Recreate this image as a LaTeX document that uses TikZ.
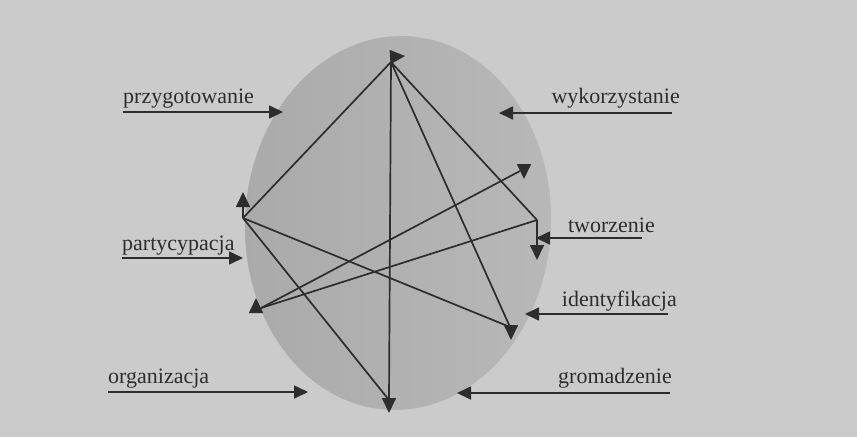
\documentclass[tikz,border=0pt]{standalone}
\usepackage{fontspec}
\setmainfont{Liberation Serif}
\usetikzlibrary{arrows.meta}
\definecolor{paper}{RGB}{203,203,203}
\definecolor{disc}{RGB}{170,170,170}
\definecolor{discrim}{RGB}{184,184,184}
\definecolor{ink}{RGB}{45,45,45}
\begin{document}
\begin{tikzpicture}[x=1pt,y=-1pt,
  link/.style={draw=ink, line width=1.7pt},
  head/.style={draw=ink, line width=1.7pt, -{Triangle[length=15pt,width=14pt]}},
  pointer/.style={draw=ink, line width=1.7pt, -{Triangle[length=14pt,width=13pt]}},
  lab/.style={font=\fontsize{22}{26}\selectfont, text=ink, inner sep=0pt}]
\useasboundingbox (0,0) rectangle (857,437);
\fill[paper] (0,0) rectangle (857,437);

% grey disc, slightly paler towards its right rim
\shade[left color=disc, middle color=disc, right color=discrim,
       rotate around={-3:(398,223)}] (398,223) ellipse (153 and 187);

% vertices of the network
\coordinate (A) at (391,62);
\coordinate (B) at (243,218);
\coordinate (C) at (537,220);
\coordinate (D) at (261,308);
\coordinate (E) at (510,327);
\coordinate (F) at (389,400);
\coordinate (G) at (520,171);

% connections
\draw[link] (A) -- (B);
\draw[link] (A) -- (F);
\draw[link] (A) -- (E);
\draw[link] (A) -- (C);
\draw[link] (B) -- (F);
\draw[link] (B) -- (E);
\draw[link] (D) -- (G);
\draw[link] (D) -- (C);

% arrowheads at the vertices
\draw[head] ([shift={(-1,-5)}]A) -- ++(15,-1);
\draw[head] (B) -- ++(0,-26);
\draw[head] (C) -- ++(0,40);
\draw[head] ([shift={(-5,4)}]D) -- ++(0,-14);
\draw[head] ([shift={(1,-1)}]E) -- ++(0,14);
\draw[head] (F) -- ++(0,13);
\draw[head] ([shift={(4,-6)}]G) -- ++(0,14);

% labels with pointers
\node[lab, anchor=base west] (tP) at (123,103) {przygotowanie};
\coordinate (pP1) at (123,112); \coordinate (pP2) at (283,112);
\draw[pointer] (pP1) -- (pP2);

\node[lab, anchor=base east] (tW) at (680,103) {wykorzystanie};
\coordinate (pW1) at (672,113); \coordinate (pW2) at (499,113);
\draw[pointer] (pW1) -- (pW2);

\node[lab, anchor=base west] (tPa) at (122,250) {partycypacja};
\coordinate (pPa1) at (122,258); \coordinate (pPa2) at (243,258);
\draw[pointer] (pPa1) -- (pPa2);

\node[lab, anchor=base east] (tT) at (655,232) {tworzenie};
\coordinate (pT1) at (642,238); \coordinate (pT2) at (536,238);
\draw[pointer] (pT1) -- (pT2);

\node[lab, anchor=base east] (tI) at (677,306) {identyfikacja};
\coordinate (pI1) at (668,314); \coordinate (pI2) at (525,314);
\draw[pointer] (pI1) -- (pI2);

\node[lab, anchor=base west] (tO) at (108,383) {organizacja};
\coordinate (pO1) at (108,392); \coordinate (pO2) at (308,392);
\draw[pointer] (pO1) -- (pO2);

\node[lab, anchor=base east] (tG) at (672,383) {gromadzenie};
\coordinate (pG1) at (670,393); \coordinate (pG2) at (457,393);
\draw[pointer] (pG1) -- (pG2);
\end{tikzpicture}
\end{document}
